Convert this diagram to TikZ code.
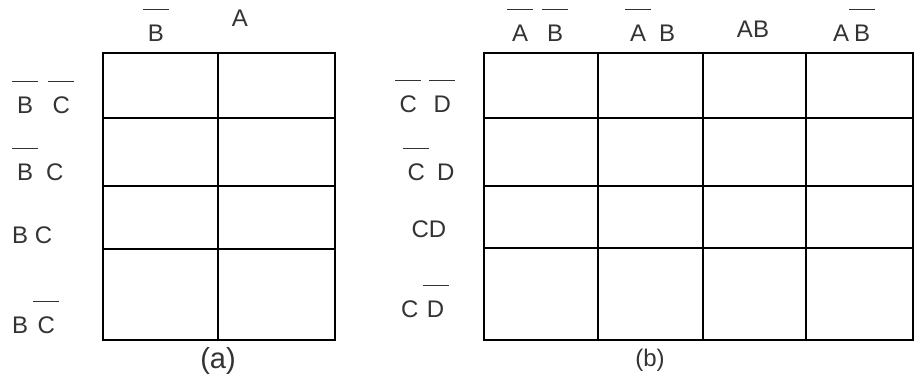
\documentclass[tikz,border=0pt]{standalone}
\usepackage{fontspec}
\setmainfont{Liberation Sans}
\newcommand{\nbar}[1]{\makebox[26pt]{#1}\llap{\rule[31pt]{26pt}{0.9pt}}}
\begin{document}
\begin{tikzpicture}[x=1pt,y=-1pt,
      lab/.style={anchor=base,inner sep=0pt,text=black!80,
        font=\fontsize{24}{28}\selectfont},
      labw/.style={lab,anchor=base west},
      caplab/.style={lab,font=\fontsize{29}{32}\selectfont},
      kgrid/.style={draw=black,line width=2.6pt}
    ]
    \useasboundingbox (0,0) rectangle (916,378);
    \draw[kgrid] (103,53) rectangle (335,340);
    \foreach \x in {218} \draw[kgrid] (\x,53) -- (\x,340);
    \foreach \y in {118,186,249} \draw[kgrid] (103,\y) -- (335,\y);
    \node[lab] (aB) at (156,41) {\nbar{B}};
    \node[lab] (aA) at (240,26) {A};
    \node[labw] (a1) at (12,113) {\nbar{B}\hspace{10pt}\nbar{C}};
    \node[labw] (a2) at (12,180) {\nbar{B}\hspace{8pt}C};
    \node[labw] (a3) at (12,243) {B C};
    \node[labw] (a4) at (12,333) {B\hspace{5pt}\nbar{C}};
    \node[caplab] (ca) at (218,368) {(a)};
    \draw[kgrid] (484,53) rectangle (913,340);
    \foreach \x in {598,703,806} \draw[kgrid] (\x,53) -- (\x,340);
    \foreach \y in {118,186,248} \draw[kgrid] (484,\y) -- (913,\y);
    \node[labw] (b1) at (507,41) {\nbar{A}\hspace{9pt}\nbar{B}};
    \node[labw] (b2) at (625,41) {\nbar{A}\hspace{8pt}B};
    \node[lab] (b3) at (753,37) {AB};
    \node[labw] (b4) at (833,41) {A\nbar{B}};
    \node[labw] (c1) at (395,112) {\nbar{C}\hspace{8pt}\nbar{D}};
    \node[labw] (c2) at (403,180) {\nbar{C}\hspace{8pt}D};
    \node[lab] (c3) at (429,237) {CD};
    \node[labw] (c4) at (401,317) {C\hspace{4pt}\nbar{D}};
    \node[lab] (cb) at (650,366) {(b)};
  \end{tikzpicture}
\end{document}
